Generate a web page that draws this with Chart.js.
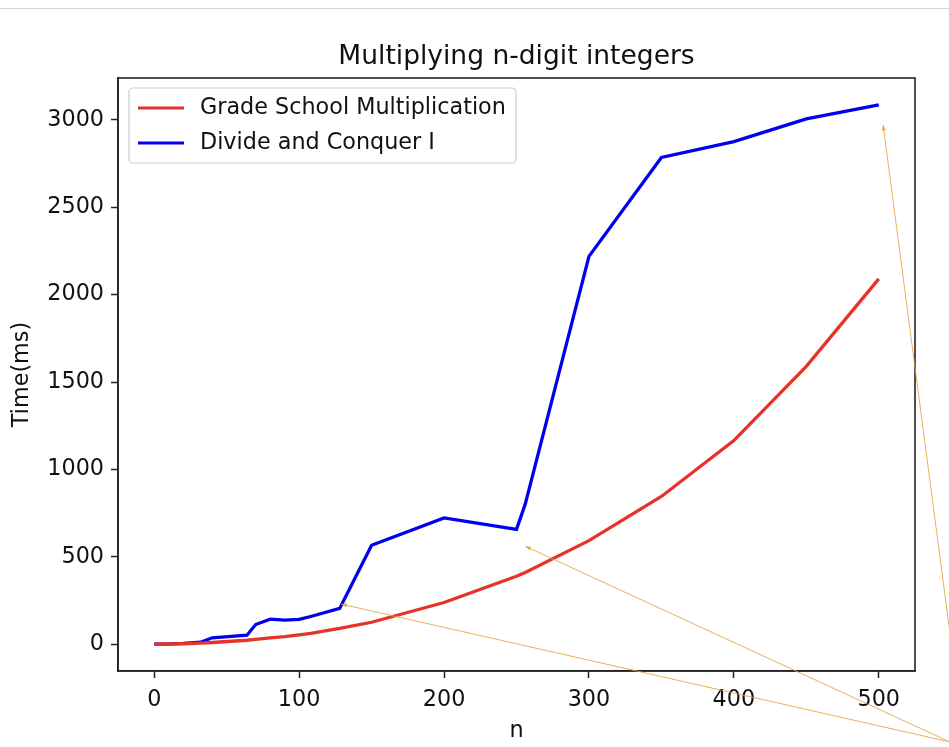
<!DOCTYPE html>
<html>
<head>
<meta charset="utf-8">
<script src="https://cdn.jsdelivr.net/npm/chart.js@4"></script>
<style>
    body { margin: 0; background: #fff; }
    .topline { position: absolute; left: 0; top: 8px; width: 949px; height: 1px; background: #d6d6d6; }
    canvas { position: absolute; left: 0; top: 0; }
</style>
</head>
<body>
<div class="topline"></div>
<canvas id="chart" width="949" height="747"></canvas>
<script>
// n values (x axis)
const nValues = [0, 10, 20, 32, 40, 64, 70, 80, 90, 100, 108, 128, 150, 200, 250, 256, 300, 350, 400, 450, 500];
// times in ms
const gradeSchool = [0, 0.5, 2, 6, 9, 22, 27, 35, 43, 53, 62, 90, 125, 238, 388, 410, 592, 845, 1165, 1590, 2090];
const divideConquer = [0, 1, 4, 11, 36, 51, 112, 143, 137, 141, 158, 204, 566, 722, 657, 800, 2219, 2785, 2876, 3006, 3086];
const seriesLabels = ["Grade School Multiplication", "Divide and Conquer I"];
const xTicks = [0, 100, 200, 300, 400, 500];
const yTicks = [0, 500, 1000, 1500, 2000, 2500, 3000];
// annotation arrows (head and tail points in data units)
const arrowHeadX = [129, 256, 503];
const arrowHeadY = [229, 560, 2971];
const arrowTailX = [549, 549, 559];
const arrowTailY = [-560, -560, -560];

const FONT = "'DejaVu Sans', sans-serif";
const FS = 22.3;

// 축 박스 + 범례 + 화살표 그리기
const framePlugin = {
    id: "frame",
    afterDatasetsDraw(chart) {
        const ctx = chart.ctx;
        const a = chart.chartArea;
        const xs = chart.scales.x, ys = chart.scales.y;

        ctx.save();
        ctx.strokeStyle = "#222";
        ctx.lineWidth = 1.6;
        ctx.strokeRect(a.left, a.top, a.right - a.left, a.bottom - a.top);

        // arrows
        ctx.strokeStyle = "rgba(230,160,60,0.85)";
        ctx.fillStyle = "rgba(230,160,60,0.85)";
        ctx.lineWidth = 1;
        arrowHeadX.forEach((v, i) => {
            const tx = xs.getPixelForValue(arrowTailX[i]);
            const ty = ys.getPixelForValue(arrowTailY[i]);
            const hx = xs.getPixelForValue(v);
            const hy = ys.getPixelForValue(arrowHeadY[i]);
            ctx.beginPath();
            ctx.moveTo(tx, ty);
            ctx.lineTo(hx, hy);
            ctx.stroke();
            const ang = Math.atan2(hy - ty, hx - tx);
            ctx.beginPath();
            ctx.moveTo(hx, hy);
            ctx.lineTo(hx - 6 * Math.cos(ang - 0.35), hy - 6 * Math.sin(ang - 0.35));
            ctx.lineTo(hx - 6 * Math.cos(ang + 0.35), hy - 6 * Math.sin(ang + 0.35));
            ctx.closePath();
            ctx.fill();
        });

        // legend
        const lx = a.left + 11, ly = a.top + 10, lw = 387, lh = 75;
        ctx.beginPath();
        ctx.roundRect(lx, ly, lw, lh, 4);
        ctx.fillStyle = "rgba(255,255,255,0.8)";
        ctx.fill();
        ctx.strokeStyle = "#cccccc";
        ctx.lineWidth = 1.2;
        ctx.stroke();
        ctx.font = FS + "px " + FONT;
        ctx.textBaseline = "middle";
        chart.data.datasets.forEach((ds, i) => {
            const cy = ly + 20 + i * 35;
            ctx.strokeStyle = ds.borderColor;
            ctx.lineWidth = 3;
            ctx.beginPath();
            ctx.moveTo(lx + 9, cy);
            ctx.lineTo(lx + 55, cy);
            ctx.stroke();
            ctx.fillStyle = "#111";
            ctx.fillText(ds.label, lx + 71, cy);
        });
        ctx.restore();
    }
};

new Chart(document.getElementById("chart"), {
    type: "line",
    data: {
        datasets: [
            {
                label: seriesLabels[0],
                data: nValues.map((n, i) => ({ x: n, y: gradeSchool[i] })),
                borderColor: "#e5332a",
                borderWidth: 3.3,
                pointRadius: 0,
                tension: 0
            },
            {
                label: seriesLabels[1],
                data: nValues.map((n, i) => ({ x: n, y: divideConquer[i] })),
                borderColor: "#0000ee",
                borderWidth: 3.3,
                pointRadius: 0,
                tension: 0
            }
        ]
    },
    options: {
        responsive: false,
        animation: false,
        events: [],
        layout: { padding: { left: 0, right: 34, top: 0, bottom: 0 } },
        plugins: {
            legend: { display: false },
            tooltip: { enabled: false },
            title: {
                display: true,
                fullSize: false,
                text: "Multiplying n-digit integers",
                color: "#111",
                font: { family: FONT, size: 26.5, weight: "normal" },
                padding: { top: 41, bottom: 5.2 }
            }
        },
        scales: {
            x: {
                type: "linear",
                min: -25,
                max: 525,
                afterBuildTicks: (s) => { s.ticks = xTicks.map(v => ({ value: v })); },
                afterFit: (s) => { s.height = 76; },
                grid: { display: true, drawOnChartArea: false, drawTicks: true, tickLength: 7, tickWidth: 1.5, tickColor: "#222" },
                border: { display: true, color: "#222", width: 1.6 },
                ticks: { color: "#111", font: { family: FONT, size: FS }, padding: 9, maxRotation: 0, callback: (v) => String(v) },
                title: { display: true, text: "n", color: "#111", font: { family: FONT, size: FS }, padding: { top: 0, bottom: 2 } }
            },
            y: {
                type: "linear",
                min: -154,
                max: 3240,
                afterBuildTicks: (s) => { s.ticks = yTicks.map(v => ({ value: v })); },
                afterFit: (s) => { s.width = 118; },
                grid: { display: true, drawOnChartArea: false, drawTicks: true, tickLength: 7, tickWidth: 1.5, tickColor: "#222" },
                border: { display: true, color: "#222", width: 1.6 },
                ticks: { color: "#111", font: { family: FONT, size: FS }, padding: 7, callback: (v) => String(v) },
                title: { display: true, text: "Time(ms)", color: "#111", font: { family: FONT, size: FS }, padding: { top: 9, bottom: 0 } }
            }
        }
    },
    plugins: [framePlugin]
});
</script>
</body>
</html>
